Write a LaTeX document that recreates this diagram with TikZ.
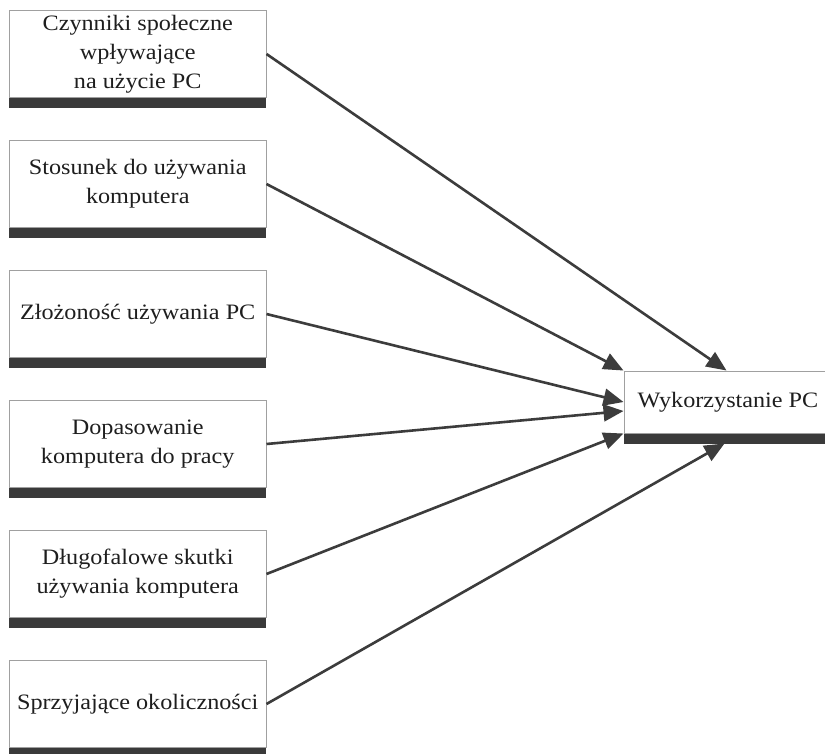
\documentclass[tikz,border=0pt]{standalone}
\usepackage{fontspec}
\setmainfont[FakeStretch=1.1]{Liberation Serif}
\usetikzlibrary{arrows.meta,calc}
\definecolor{edgegray}{HTML}{A0A0A0}
\definecolor{bargray}{HTML}{3A3A3A}
\definecolor{linkgray}{HTML}{3C3C3C}
\definecolor{txt}{HTML}{1E1E1E}
\begin{document}
\begin{tikzpicture}[x=1pt,y=-1pt,
  factor/.style={draw=edgegray, line width=1pt, fill=white, text=txt,
    minimum width=256.5pt, minimum height=86.5pt, inner sep=0pt,
    align=center, font=\fontsize{22}{29}\selectfont},
  outcome/.style={factor, minimum width=208pt, minimum height=62pt},
  bar/.style={fill=bargray},
  link/.style={draw=linkgray, line width=2.6pt,
    -{Triangle[length=20pt,width=17pt]}}]
\clip (0,0) rectangle (825,753);
\fill[white] (0,0) rectangle (825,753);

% factor boxes, 130pt apart
\node[factor] (f1) at (137.75, 54)  {Czynniki społeczne\\wpływające\\na użycie PC};
\node[factor] (f2) at (137.75, 184) {Stosunek do używania\\komputera};
\node[factor] (f3) at (137.75, 314) {Złożoność używania PC};
\node[factor] (f4) at (137.75, 444) {Dopasowanie\\komputera do pracy};
\node[factor] (f5) at (137.75, 574) {Długofalowe skutki\\używania komputera};
\node[factor] (f6) at (137.75, 704) {Sprzyjające okoliczności};
\foreach \b in {f1,f2,f3,f4,f5,f6}
  \fill[bar] (\b.south west) rectangle ++(256.5,10.5);

% outcome box
\node[outcome] (pc) at (728, 402) {Wykorzystanie PC};
\fill[bar] (pc.south west) rectangle ++(208,10);

% arrow end points on the outcome box
\coordinate (top)   at ($(pc.north west)+(103,0)$);
\coordinate (mid)   at ($(pc.west)+(0,9)$);
\coordinate (below) at ($(pc.south west)+(101,10)$);

\draw[link] (f1.east) -- (top);
\draw[link] (f2.east) -- (pc.north west);
\draw[link] (f3.east) -- (pc.west);
\draw[link] (f4.east) -- (mid);
\draw[link] (f5.east) -- (pc.south west);
\draw[link] (f6.east) -- (below);
\end{tikzpicture}
\end{document}
